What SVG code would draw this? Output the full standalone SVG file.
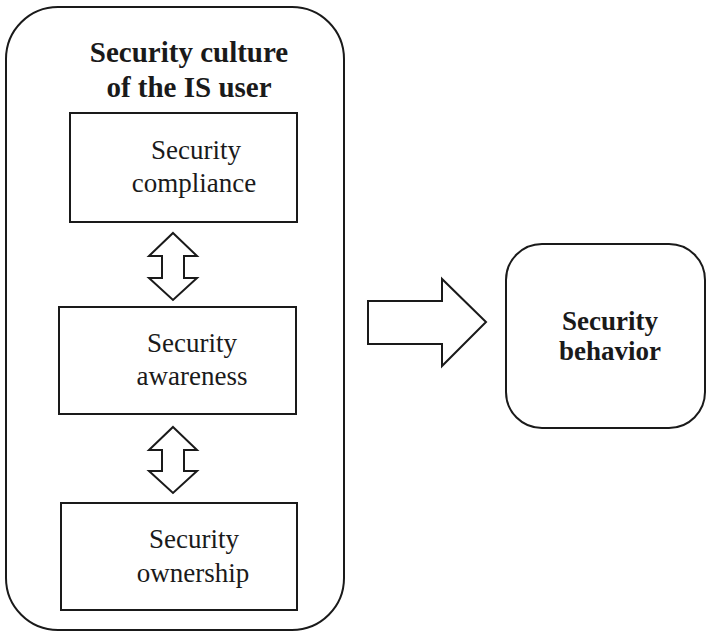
<svg xmlns="http://www.w3.org/2000/svg" width="707" height="632" viewBox="0 0 707 632">
  <style>
    .shape { fill: #ffffff; stroke: #1a1a1a; stroke-width: 2; stroke-linejoin: miter; }
    .txt { font-family: "Liberation Serif", "Times New Roman", serif; fill: #1a1a1a; text-anchor: middle; }
    .reg { font-size: 27px; }
    .bold { font-weight: bold; }
  </style>

  <!-- Container: security culture of the IS user -->
  <g id="culture">
    <rect class="shape" x="6" y="7" width="338" height="623" rx="52" ry="52"/>
    <text class="txt bold" x="189" y="62" font-size="29">Security culture</text>
    <text class="txt bold" x="189" y="97" font-size="29">of the IS user</text>
  </g>

  <g id="compliance">
    <rect class="shape" x="70" y="113" width="227" height="109"/>
    <text class="txt reg" x="196" y="159">Security</text>
    <text class="txt reg" x="194" y="192">compliance</text>
  </g>

  <g id="awareness">
    <rect class="shape" x="59" y="307" width="237" height="107"/>
    <text class="txt reg" x="192" y="352">Security</text>
    <text class="txt reg" x="192" y="385">awareness</text>
  </g>

  <g id="ownership">
    <rect class="shape" x="61" y="503" width="236" height="107"/>
    <text class="txt reg" x="194" y="548">Security</text>
    <text class="txt reg" x="193" y="582">ownership</text>
  </g>

  <g id="behavior">
    <rect class="shape" x="506" y="244" width="199" height="184" rx="36" ry="36"/>
    <text class="txt bold" x="610" y="330" font-size="27">Security</text>
    <text class="txt bold" x="610" y="360" font-size="27">behavior</text>
  </g>

  <!-- Block arrows between nodes -->
  <g id="connectors">
    <path class="shape" d="M173,233 L197,256 L184,256 L184,278 L197,278 L173,300 L149,278 L162,278 L162,256 L149,256 Z"/>
    <path class="shape" d="M173,427 L197,450 L184,450 L184,471 L197,471 L173,493 L149,471 L162,471 L162,450 L149,450 Z"/>
    <path class="shape" d="M368,301 L442,301 L442,279 L486,322 L442,366 L442,344 L368,344 Z"/>
  </g>
</svg>
